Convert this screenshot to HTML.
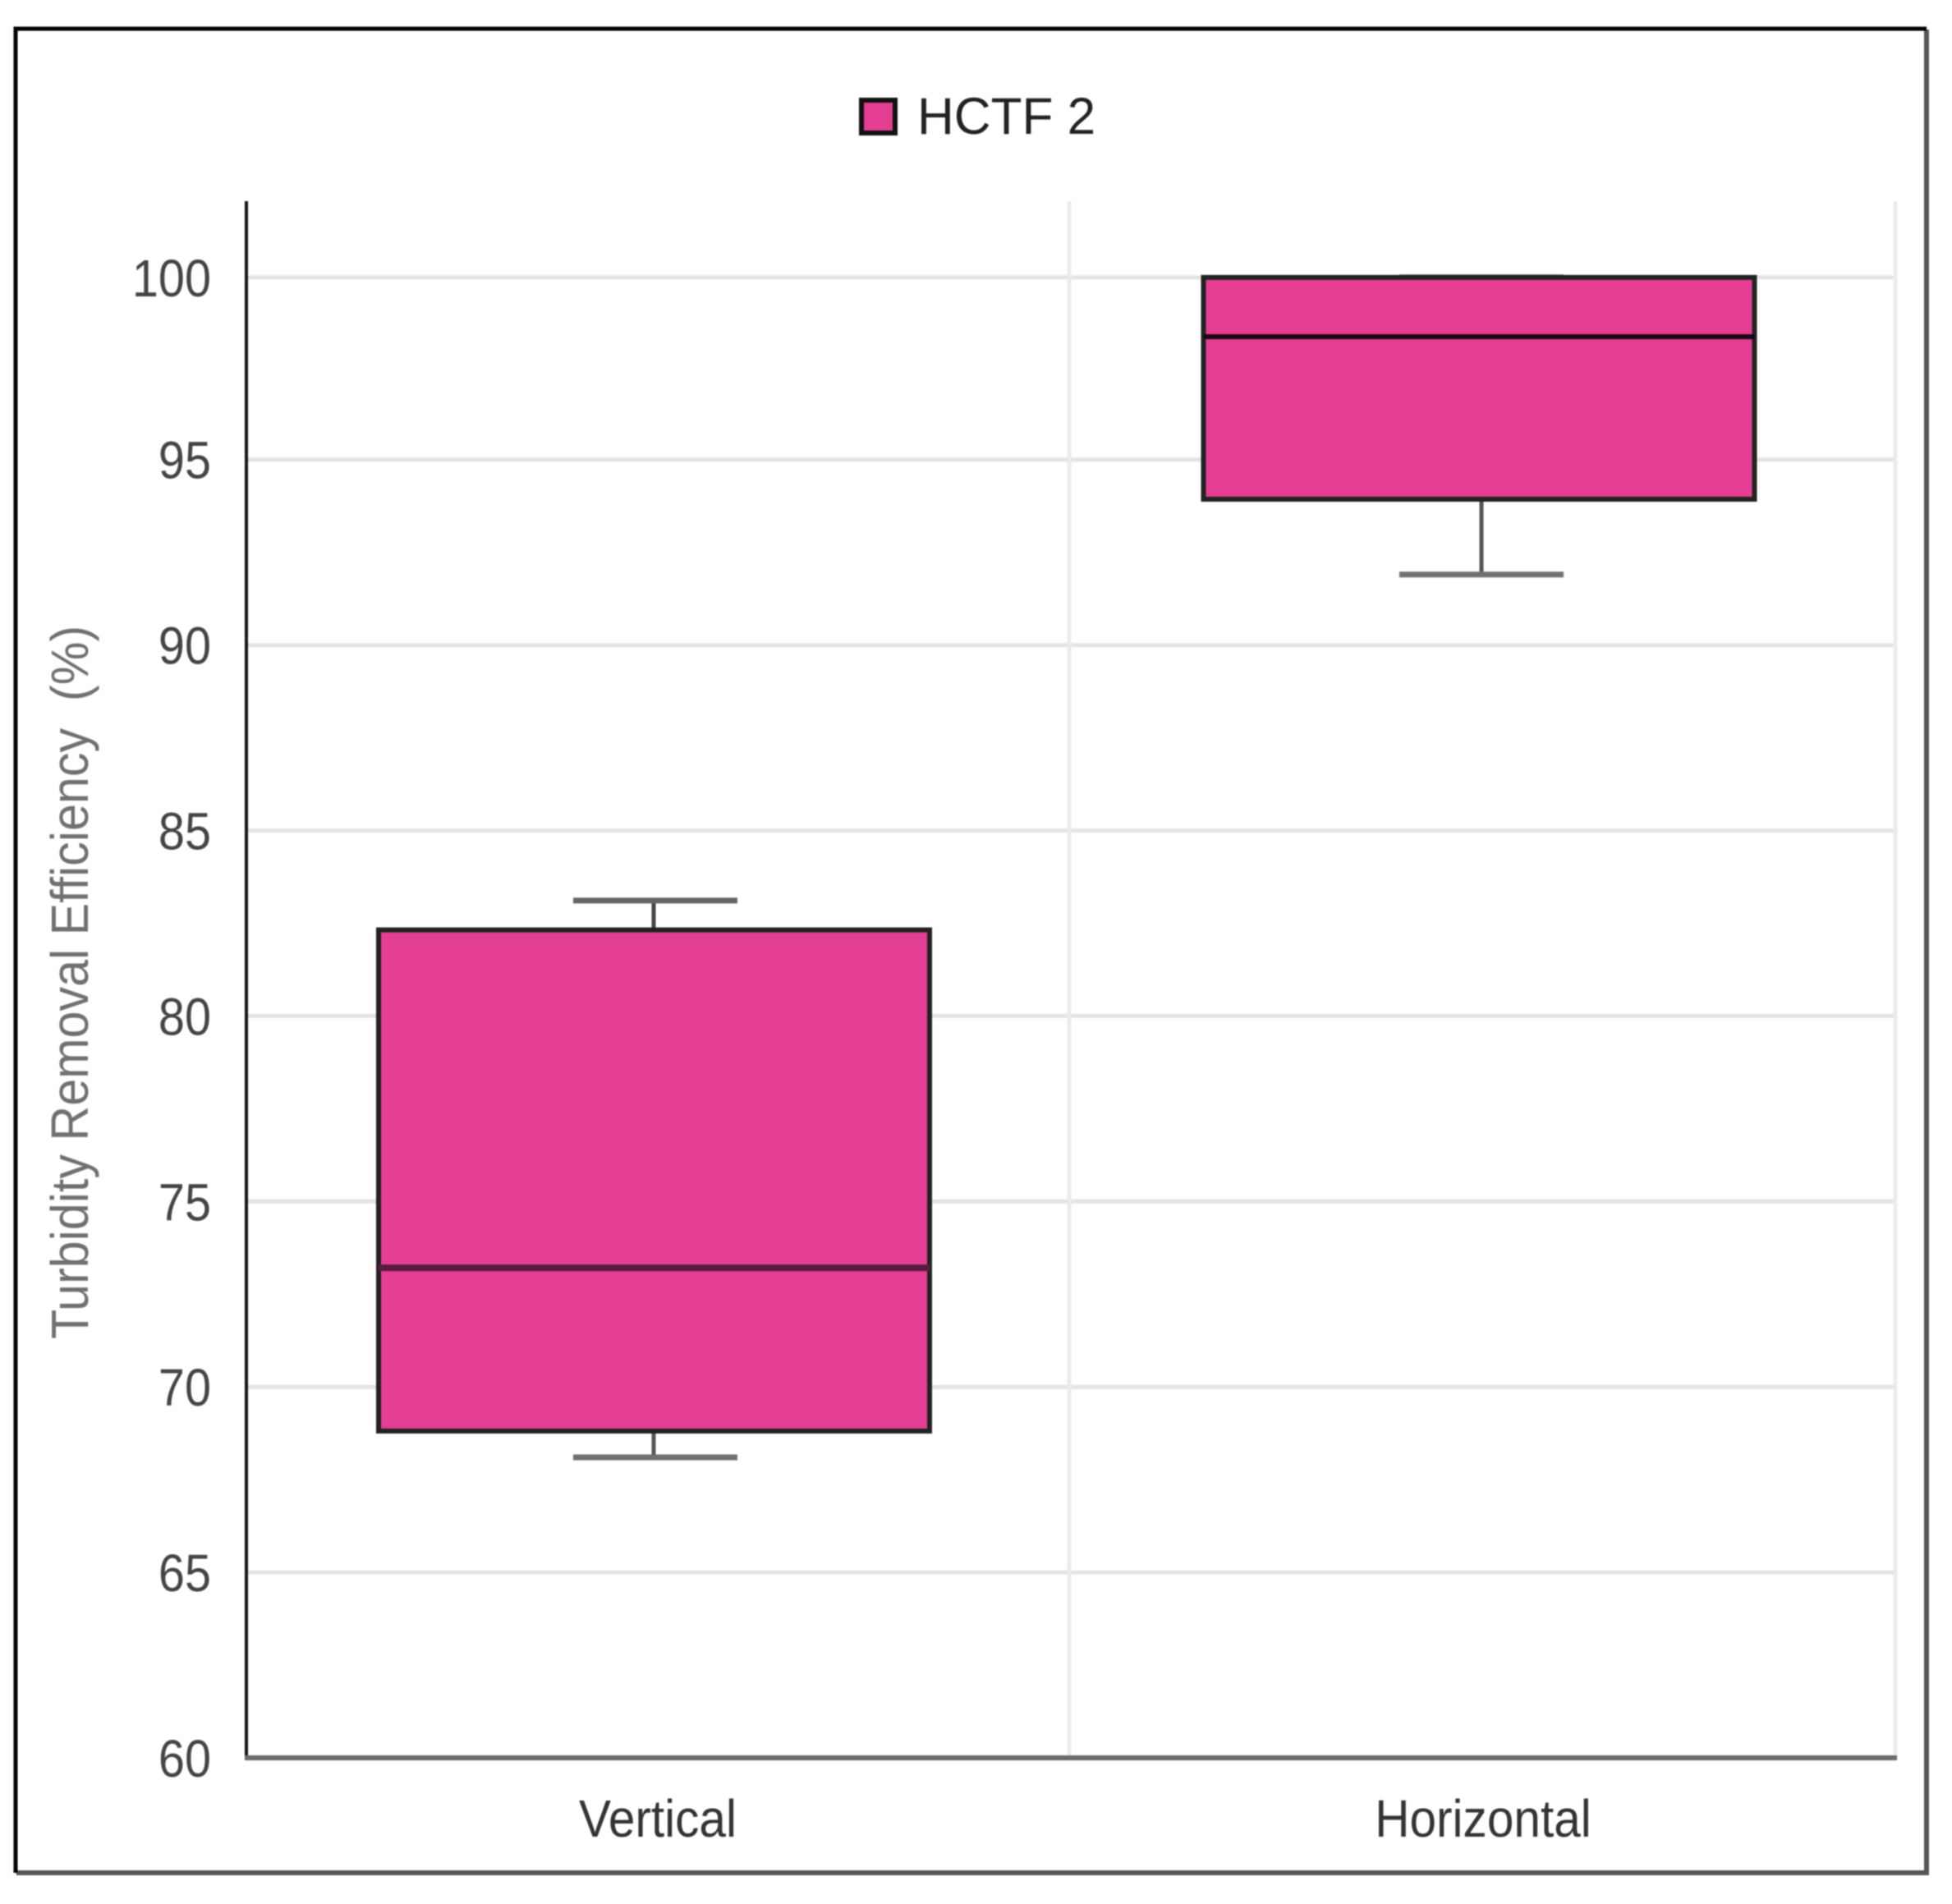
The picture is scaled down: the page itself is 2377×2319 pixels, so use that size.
<!DOCTYPE html>
<html lang="en">
<head>
<meta charset="utf-8">
<title>HCTF 2 Turbidity Removal Efficiency</title>
<style>
html,body{margin:0;padding:0;background:#fff;width:2377px;height:2319px;overflow:hidden}
svg{display:block;filter:blur(0.8px)}
text{font-family:"Liberation Sans",Arial,sans-serif;white-space:pre}
</style>
</head>
<body>
<svg id="chart" xmlns="http://www.w3.org/2000/svg" width="2377" height="2319" viewBox="0 0 2377 2319">
  <rect x="0" y="0" width="2377" height="2319" fill="#ffffff"/>
  <path d="M2346 36V2281H20" fill="none" stroke="#555555" stroke-width="6"/>
  <path d="M19 2281V35H2346" fill="none" stroke="#000000" stroke-width="5"/>
  <g>
    <rect x="1049" y="122" width="41" height="40" fill="#e33e92" stroke="#111111" stroke-width="6"/>
    <text transform="translate(1117,163) scale(0.985,1)" font-size="63" fill="#222222">HCTF 2</text>
  </g>
  <text transform="translate(107,1631) rotate(-90) scale(0.926,1)" font-size="64" fill="#707070">Turbidity Removal Efficiency  (%)</text>
  <g id="grid"></g>
  <g id="marks"></g>
  <g id="axes"></g>
</svg>
<script>
const categories = ["Vertical", "Horizontal"];
const lows = [68.10, 91.9];
const q1s = [68.81, 93.93];
const medians = [73.21, 98.31];
const q3s = [82.32, 99.91];
const highs = [83.11, 99.91];
const yTicks = [60, 65, 70, 75, 80, 85, 90, 95, 99.91];
const yTickLabels = ["60", "65", "70", "75", "80", "85", "90", "95", "100"];

const NS = "http://www.w3.org/2000/svg";
const plotLeft = 300, plotRight = 2310, plotTop = 245, plotBottom = 2141;
const gridG = document.getElementById("grid");
const marksG = document.getElementById("marks");
const axesG = document.getElementById("axes");

function yScale(v) { return 2141 - (v - 60) * 45.18; }
function stemX(i) { return 796 + 1008 * i; }
function capX(i) { return 798 + 1006 * i; }
function boxX(i) { return 796.5 + 1004.5 * i; }
function labelX(i) { return 801 + 1005 * i; }

function line(parent, x1, y1, x2, y2, color, width) {
  const el = document.createElementNS(NS, "line");
  el.setAttribute("x1", x1);
  el.setAttribute("y1", y1);
  el.setAttribute("x2", x2);
  el.setAttribute("y2", y2);
  el.setAttribute("stroke", color);
  el.setAttribute("stroke-width", width);
  parent.appendChild(el);
  return el;
}

yTicks.forEach(function (t, k) {
  if (t > 60) {
    const g = line(gridG, plotLeft, yScale(t), plotRight - 2, yScale(t), "#e4e4e4", 5);
    
    
  }
  const label = document.createElementNS(NS, "text");
  label.setAttribute("transform", "translate(257," + (yScale(t) + 23) + ") scale(0.9,1)");
  label.setAttribute("text-anchor", "end");
  label.setAttribute("font-size", "64");
  label.setAttribute("fill", "#444444");
  label.textContent = yTickLabels[k];
  
  
  axesG.appendChild(label);
});

categories.forEach(function (c, i) {
  const gx = 300 + 1002 * (i + 1) + 4 * i;
  const v = line(gridG, gx, plotTop, gx, plotBottom, "#ebebeb", 5);
  
  

  const halfBox = 335.5, halfCap = 100;

  const stemHigh = line(marksG, stemX(i), yScale(highs[i]), stemX(i), yScale(q3s[i]), "#444444", 5);
  
  
  const capHigh = line(marksG, capX(i) - halfCap, yScale(highs[i]), capX(i) + halfCap, yScale(highs[i]), "#666666", 7);
  
  

  const stemLow = line(marksG, stemX(i), yScale(q1s[i]), stemX(i), yScale(lows[i]), "#555555", 5);
  
  
  const capLow = line(marksG, capX(i) - halfCap, yScale(lows[i]), capX(i) + halfCap, yScale(lows[i]), "#707070", 7);
  
  

  const box = document.createElementNS(NS, "rect");
  box.setAttribute("x", boxX(i) - halfBox);
  box.setAttribute("y", yScale(q3s[i]));
  box.setAttribute("width", halfBox * 2);
  box.setAttribute("height", yScale(q1s[i]) - yScale(q3s[i]));
  box.setAttribute("fill", "#e33e92");
  box.setAttribute("stroke", "#222222");
  box.setAttribute("stroke-width", "6");
  
  
  marksG.appendChild(box);

  const med = line(marksG, boxX(i) - halfBox, yScale(medians[i]), boxX(i) + halfBox, yScale(medians[i]), i === 0 ? "#5a1c3e" : "#1c0812", i === 0 ? 8 : 6);
  
  

  const label = document.createElementNS(NS, "text");
  label.setAttribute("transform", "translate(" + labelX(i) + ",2237) scale(0.915,1)");
  label.setAttribute("text-anchor", "middle");
  label.setAttribute("font-size", "64");
  label.setAttribute("fill", "#333333");
  label.textContent = c;
  
  
  axesG.appendChild(label);
});

const yAxis = line(axesG, plotLeft, plotTop, plotLeft, plotBottom + 2, "#151515", 4);


const xAxis = line(axesG, plotLeft - 2, plotBottom, plotRight, plotBottom, "#6a6a6a", 6);


</script>
</body>
</html>
